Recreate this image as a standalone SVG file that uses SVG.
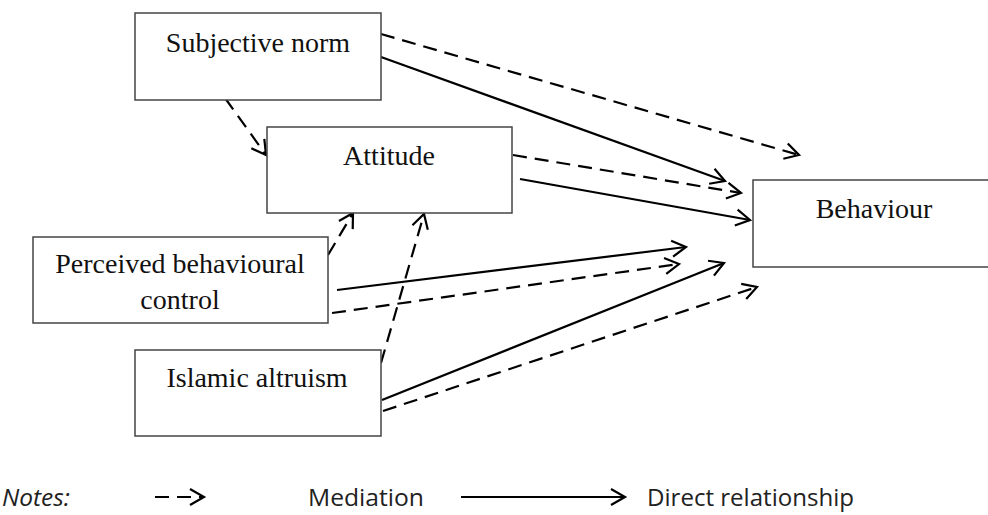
<svg xmlns="http://www.w3.org/2000/svg" width="988" height="515" viewBox="0 0 988 515">
<style>
.box{fill:#fff;stroke:#444;stroke-width:1.5}
.lbl{font-family:"Liberation Serif","Times New Roman",serif;font-size:28px;fill:#111;text-anchor:middle}
.c{fill:none;stroke:#000;stroke-width:2.2}
.d{stroke-dasharray:14,8}
.leg{font-family:"Open Sans","Noto Sans",sans-serif;font-size:23px;fill:#222}
</style>
<defs>
<marker id="ah" markerUnits="userSpaceOnUse" markerWidth="30" markerHeight="30" viewBox="-15 -15 30 30" refX="0" refY="0" orient="auto" overflow="visible">
<path d="M-14,-8 L0,0 L-14,8" fill="none" stroke="#000" stroke-width="2.2" stroke-dasharray="none"/>
</marker>
</defs>
<g id="connectors">
<line class="c d" x1="381" y1="34" x2="799" y2="155" marker-end="url(#ah)"/>
<line class="c" x1="381" y1="57" x2="725" y2="181" marker-end="url(#ah)"/>
<line class="c d" x1="225" y1="98" x2="266" y2="155" marker-end="url(#ah)"/>
<line class="c d" x1="513" y1="155" x2="741" y2="193" marker-end="url(#ah)"/>
<line class="c" x1="520" y1="179" x2="750" y2="220" marker-end="url(#ah)"/>
<line class="c d" x1="328" y1="255" x2="353" y2="213" marker-end="url(#ah)"/>
<line class="c d" x1="381" y1="363" x2="424" y2="214" marker-end="url(#ah)"/>
<line class="c" x1="337" y1="290" x2="686" y2="247" marker-end="url(#ah)"/>
<line class="c d" x1="332" y1="313" x2="679" y2="264" marker-end="url(#ah)"/>
<line class="c" x1="382" y1="400" x2="724" y2="263" marker-end="url(#ah)"/>
<line class="c d" x1="383" y1="411" x2="757" y2="287" marker-end="url(#ah)"/>
</g>
<g id="subjective-norm">
<rect class="box" x="135" y="13" width="246" height="87"/>
<text class="lbl" x="258" y="52">Subjective norm</text>
</g>
<g id="attitude">
<rect class="box" x="267" y="127" width="245" height="86"/>
<text class="lbl" x="389" y="165">Attitude</text>
</g>
<g id="behaviour">
<rect class="box" x="753" y="180" width="240" height="87"/>
<text class="lbl" x="874" y="218">Behaviour</text>
</g>
<g id="perceived-behavioural-control">
<rect class="box" x="33" y="237" width="295" height="86"/>
<text class="lbl" x="180" y="273">Perceived behavioural</text>
<text class="lbl" x="180" y="309">control</text>
</g>
<g id="islamic-altruism">
<rect class="box" x="135" y="350" width="246" height="86"/>
<text class="lbl" x="257" y="387">Islamic altruism</text>
</g>
<g id="legend">
<text class="leg" x="2" y="506" font-style="italic" textLength="68" lengthAdjust="spacingAndGlyphs">Notes:</text>
<line class="c d" x1="155" y1="497" x2="204" y2="497" stroke-dasharray="12,7" marker-end="url(#ah)"/>
<text class="leg" x="308" y="506" textLength="116" lengthAdjust="spacingAndGlyphs">Mediation</text>
<line class="c" x1="461" y1="497" x2="625" y2="497" marker-end="url(#ah)"/>
<text class="leg" x="647" y="506" textLength="207" lengthAdjust="spacingAndGlyphs">Direct relationship</text>
</g>
</svg>
